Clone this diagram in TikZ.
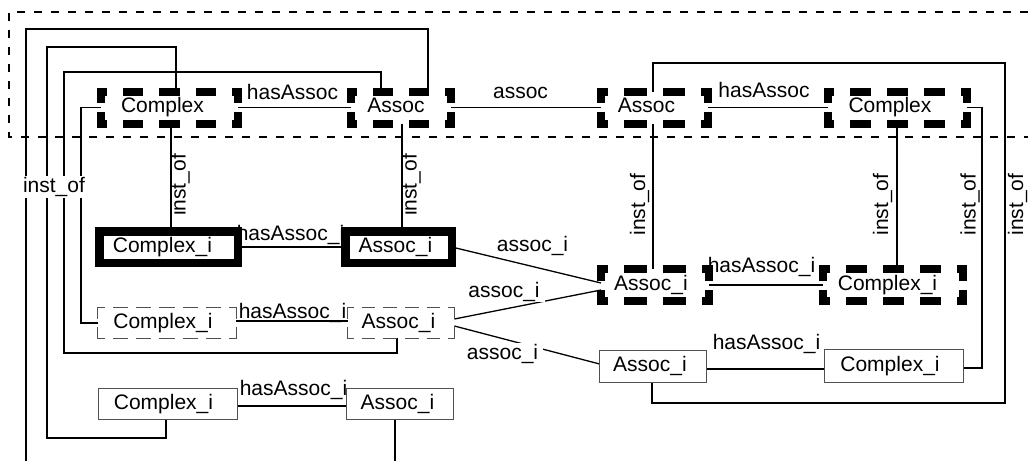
\documentclass[tikz,border=0pt]{standalone}
\usepackage{fontspec}
\setmainfont{Liberation Sans}
\newcommand\dside[6]{%
  \pgfmathsetmacro\nP{max(1,round((#3+#4)/(#5+#6)))}%
  \pgfmathsetmacro\pP{(#3+#4)/\nP}%
  \pgfmathsetmacro\onL{\pP-#6-#4}%
  \pgfmathsetmacro\offL{#6+#4}%
  \pgfmathsetmacro\phL{(\pP-#6)/2}%
  \draw[line width=#4pt, line cap=rect, dash pattern=on \onL pt off \offL pt, dash phase=\phL pt] (#1) -- (#2);%
}
\newcommand\dbox[7]{%
  \dside{#1.north west}{#1.north east}{#2}{#4}{#5}{#6}%
  \dside{#1.north east}{#1.south east}{#3}{#4}{#5}{#7}%
  \dside{#1.south east}{#1.south west}{#2}{#4}{#5}{#6}%
  \dside{#1.south west}{#1.north west}{#3}{#4}{#5}{#7}%
}
\definecolor{boxgray}{HTML}{505050}
\begin{document}
\begin{tikzpicture}[x=1pt,y=-1pt,font=\fontsize{21}{25}\selectfont,
  box/.style={rectangle, inner sep=0pt, outer sep=0pt, text height=15.3pt, text depth=4.4pt},
  conn/.style={line width=1.8pt},
  diag/.style={line width=1.3pt},
  lbl/.style={inner sep=0pt},
  wlbl/.style={fill=white, inner xsep=5pt, inner ysep=1pt},
  frame/.style={line width=1.8pt, dash pattern=on 8pt off 9pt},
  solidthick/.style={line width=8.5pt},
  plainbox/.style={line width=1.2pt, draw=boxgray}]
\useasboundingbox (0,0) rectangle (1028,461);
% frame
\draw[frame] (1028,12) -- (9,12) -- (9,137) -- (1028,137);
% nodes
\node[box, minimum width=137pt, minimum height=32pt] (C1) at (169.5,107.5) {Complex\kern14pt};
\node[box, minimum width=100pt, minimum height=32pt] (A1) at (401,107.5) {Assoc\kern10pt};
\node[box, minimum width=107pt, minimum height=32pt] (A2) at (654.5,107.5) {Assoc\kern16pt};
\node[box, minimum width=139pt, minimum height=32pt] (C2) at (897.5,107.5) {Complex\kern15pt};
\node[box, minimum width=138.5pt, minimum height=31.5pt] (CI1) at (168.5,247) {Complex\_i\kern12pt};
\node[box, minimum width=106.5pt, minimum height=31.5pt] (AI1) at (398.5,247) {Assoc\_i\kern6pt};
\node[box, minimum width=138.8pt, minimum height=30.8pt] (CI2) at (167,323) {Complex\_i\kern8pt};
\node[box, minimum width=106.8pt, minimum height=30.8pt] (AI2) at (401,323) {Assoc\_i\kern5pt};
\node[box, minimum width=138.8pt, minimum height=30.8pt] (CI3) at (168,404) {Complex\_i\kern9pt};
\node[box, minimum width=106.8pt, minimum height=30.8pt] (AI3) at (400,404) {Assoc\_i\kern5pt};
\node[box, minimum width=108pt, minimum height=32pt] (AIa) at (655,285) {Assoc\_i\kern8pt};
\node[box, minimum width=140pt, minimum height=32pt] (CIa) at (893,285) {Complex\_i\kern11pt};
\node[box, minimum width=106.8pt, minimum height=31.8pt] (AIb) at (653,366.5) {Assoc\_i\kern6pt};
\node[box, minimum width=138.8pt, minimum height=32.8pt] (CIb) at (894,366) {Complex\_i\kern8pt};
\coordinate (e1) at (26,461);
\coordinate (e2) at (395,461);
% connectors
\draw[conn] (C1.east) -- (A1.west);
\draw[conn] (A1.east) -- (A2.west);
\draw[conn] (A2.east) -- (C2.west);
\draw[conn] ([xshift=1.5pt]C1.south) -- ([xshift=2.5pt]CI1.north);
\draw[conn] ([xshift=1pt]A1.south) -- ([xshift=3.5pt]AI1.north);
\draw[conn] ([xshift=-1.5pt]A2.south) -- ([xshift=-2pt]AIa.north);
\draw[conn] ([xshift=-0.5pt]C2.south) -- ([xshift=4pt]CIa.north);
\draw[conn] (CI1.east) -- (AI1.west);
\draw[conn] ([yshift=2pt]CI2.east) -- ([yshift=2pt]AI2.west);
\draw[conn] ([yshift=-2pt]CI3.east) -- ([yshift=-2pt]AI3.west);
\draw[conn] (AIa.east) -- (CIa.west);
\draw[conn] ([yshift=-2.5pt]AIb.east) -- ([yshift=-3pt]CIb.west);
\draw[diag] (AI1.east) -- ([yshift=2pt]AIa.west);
\draw[diag] ([yshift=4pt]AI2.east) -- ([yshift=-5pt]AIa.west);
\draw[diag] ([yshift=-3pt]AI2.east) -- ([yshift=2.5pt]AIb.west);
% loops
\draw[conn] ([xshift=27pt]A1.north) |- (26,29) -- (e1);
\draw[conn] ([xshift=6.5pt]C1.north) |- (47,47) -- (47,438) -| ([xshift=-2pt]CI3.south);
\draw[conn] ([xshift=-20pt]A1.north) |- (64,72) -- (64,353) -| ([xshift=-4pt]AI2.south);
\draw[conn] (C1.west) -- (81,107.5) |- (CI2.west);
\draw[conn] ([xshift=-5pt]AI3.south) -- (e2);
\draw[conn] ([xshift=-1.5pt]A2.north) |- (1005,63) -- (1005,403) -| ([xshift=-1pt]AIb.south);
\draw[conn] (C2.east) -- (982,107.5) |- ([yshift=-2pt]CIb.east);
% labels
\node[lbl] (l1) at (292.5,91.5) {hasAssoc};
\node[lbl] (l2) at (520.5,92.5) {assoc};
\node[lbl] (l3) at (764,90) {hasAssoc};
\node[lbl] (l4) at (290.5,234.5) {hasAssoc\_i};
\node[lbl] (l5) at (292.5,312.5) {hasAssoc\_i};
\node[lbl] (l6) at (293.5,389.5) {hasAssoc\_i};
\node[lbl] (l7) at (761.5,266.5) {hasAssoc\_i};
\node[lbl] (l8) at (766.5,343.5) {hasAssoc\_i};
\node[wlbl] (l9) at (532.5,245.5) {assoc\_i};
\node[wlbl] (l10) at (504,291.5) {assoc\_i};
\node[wlbl] (l11) at (502.5,353.5) {assoc\_i};
\node[fill=white, inner sep=1pt] (l12) at (54,187) {inst\_of};
\node[lbl, rotate=90] (l13) at (180,185) {inst\_of};
\node[lbl, rotate=90] (l14) at (411,185) {inst\_of};
\node[lbl, rotate=90] (l15) at (639.5,204.5) {inst\_of};
\node[lbl, rotate=90] (l16) at (882.5,204.5) {inst\_of};
\node[lbl, rotate=90] (l17) at (970,204.5) {inst\_of};
\node[lbl, rotate=90] (l18) at (1017.5,204.5) {inst\_of};
% borders
\dbox{C1}{137}{32}{8}{19}{16}{9}
\dbox{A1}{100}{32}{8}{19}{16}{9}
\dbox{A2}{107}{32}{8}{19}{16}{9}
\dbox{C2}{139}{32}{8}{19}{16}{9}
\dbox{AIa}{108}{32}{8}{19}{16}{9}
\dbox{CIa}{140}{32}{8}{19}{16}{9}
\begin{scope}[color=boxgray]
\dbox{CI2}{138.8}{30.8}{1.2}{14}{8}{8}
\dbox{AI2}{106.8}{30.8}{1.2}{14}{8}{8}
\end{scope}
\draw[solidthick] (CI1.north west) rectangle (CI1.south east);
\draw[solidthick] (AI1.north west) rectangle (AI1.south east);
\draw[plainbox] (CI3.north west) rectangle (CI3.south east);
\draw[plainbox] (AI3.north west) rectangle (AI3.south east);
\draw[plainbox] (AIb.north west) rectangle (AIb.south east);
\draw[plainbox] (CIb.north west) rectangle (CIb.south east);
\end{tikzpicture}
\end{document}
